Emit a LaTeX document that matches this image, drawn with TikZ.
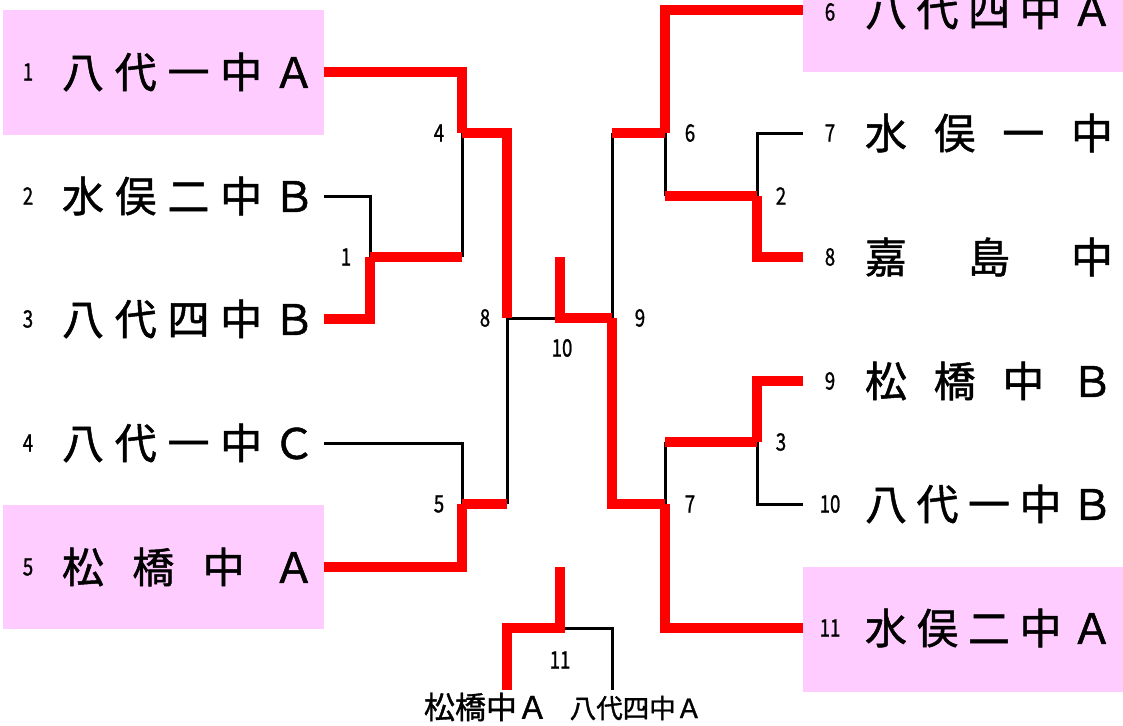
\documentclass[tikz,border=0pt]{standalone}
\usepackage{fontspec}
\setmainfont{Noto Sans CJK JP}
\newfontfamily\jpb{Noto Sans CJK JP}[FakeBold=1.2]
\definecolor{hl}{HTML}{FFCCFF}
\newcommand\nar[1]{\scalebox{0.78}[1]{#1}}
\newcommand\spread[2]{\makebox[#1pt][s]{#2}}
\begin{document}
\begin{tikzpicture}[x=1pt,y=-1pt,
  win/.style={draw=red, line width=9.5pt, line join=miter},
  lose/.style={draw=black, line width=3pt},
  team/.style={inner sep=0pt, font=\jpb\fontsize{42}{42}\selectfont},
  num/.style={inner sep=0pt, font=\jpb\fontsize{24}{24}\selectfont},
  low/.style={inner sep=0pt}]
\useasboundingbox (0,0) rectangle (1123,725);
% highlight boxes
\fill[hl] (3,10) rectangle (324,135);
\fill[hl] (3,505) rectangle (324,629);
\fill[hl] (803,0) rectangle (1123,72);
\fill[hl] (803,567) rectangle (1123,692);
% teams left
\node[team] (t1) at (188.5,72) {\spread{253}{八\hfill 代\hfill 一\hfill 中\hfill Ａ}};
\node[team] (t2) at (188.5,196) {\spread{253}{水\hfill 俣\hfill 二\hfill 中\hfill Ｂ}};
\node[team] (t3) at (188.5,319) {\spread{253}{八\hfill 代\hfill 四\hfill 中\hfill Ｂ}};
\node[team] (t4) at (188.5,443) {\spread{253}{八\hfill 代\hfill 一\hfill 中\hfill Ｃ}};
\node[team] (t5) at (188.5,567) {\spread{253}{松\hfill 橋\hfill 中\hfill Ａ}};
% teams right
\node[team] (t6) at (989,10) {\spread{248}{八\hfill 代\hfill 四\hfill 中\hfill Ａ}};
\node[team] (t7) at (989,133) {\spread{248}{水\hfill 俣\hfill 一\hfill 中}};
\node[team] (t8) at (989,257) {\spread{248}{嘉\hfill 島\hfill 中}};
\node[team] (t9) at (989,381) {\spread{248}{松\hfill 橋\hfill 中\hfill Ｂ}};
\node[team] (t10) at (989,504) {\spread{248}{八\hfill 代\hfill 一\hfill 中\hfill Ｂ}};
\node[team] (t11) at (989,628) {\spread{248}{水\hfill 俣\hfill 二\hfill 中\hfill Ａ}};
% seed numbers
\node[num] (s1) at (28,72) {\nar{1}};
\node[num] (s2) at (28,196) {\nar{2}};
\node[num] (s3) at (28,319) {\nar{3}};
\node[num] (s4) at (28,443) {\nar{4}};
\node[num] (s5) at (28,567) {\nar{5}};
\node[num] (s6) at (830,12) {\nar{6}};
\node[num] (s7) at (830,133) {\nar{7}};
\node[num] (s8) at (830,257) {\nar{8}};
\node[num] (s9) at (830,381) {\nar{9}};
\node[num] (s10) at (830,504) {\nar{10}};
\node[num] (s11) at (830,628) {\nar{11}};
% line ends
\coordinate (e1) at (324,72);
\coordinate (e2) at (324,196);
\coordinate (e3) at (324,319);
\coordinate (e4) at (324,443);
\coordinate (e5) at (324,567);
\coordinate (e6) at (803,10);
\coordinate (e7) at (803,133);
\coordinate (e8) at (803,257);
\coordinate (e9) at (803,381);
\coordinate (e10) at (803,504);
\coordinate (e11) at (803,628);
% junctions
\coordinate (m1) at (370,257);
\coordinate (m4) at (462,133);
\coordinate (m5) at (462,504);
\coordinate (m8) at (507,318);
\coordinate (m10) at (560,318);
\coordinate (champ) at (560,257);
\coordinate (m9) at (612,318);
\coordinate (m6) at (665,133);
\coordinate (m2) at (757,196);
\coordinate (m3) at (757,442);
\coordinate (m7) at (665,504);
\coordinate (m11t) at (560,567);
\coordinate (m11) at (560,628);
\coordinate (b1) at (507,690);
\coordinate (b2) at (612,690);
% match numbers
\node[num] (r1) at (346,257) {\nar{1}};
\node[num] (r4) at (439,133) {\nar{4}};
\node[num] (r5) at (439,504) {\nar{5}};
\node[num] (r8) at (485,318) {\nar{8}};
\node[num] (r10) at (562,348) {\nar{10}};
\node[num] (r9) at (640,318) {\nar{9}};
\node[num] (r6) at (690,133) {\nar{6}};
\node[num] (r2) at (781,196) {\nar{2}};
\node[num] (r3) at (781,442) {\nar{3}};
\node[num] (r7) at (690,504) {\nar{7}};
\node[num] (r11) at (560,660) {\nar{11}};
% third place names
\node[low, font=\jpb\fontsize{31}{31}\selectfont] (p1) at (486,707) {松橋中Ａ};
\node[low, font=\jpb\fontsize{26.5}{26.5}\selectfont] (p2) at (636,708) {八代四中Ａ};
% losing lines
\draw[lose] (e2) -| (m1);
\draw[lose] (m1 -| m4) -- (m4);
\draw[lose] (e4) -| (m5);
\draw[lose] (m5 -| m8) -- (m8);
\draw[lose] (m8) -- (m10);
\draw[lose] (e7) -| (m2);
\draw[lose] (m2 -| m6) -- (m6);
\draw[lose] (m6 -| m9) -- (m9);
\draw[lose] (e10) -| (m3);
\draw[lose] (m3 -| m7) -- (m7);
\draw[lose] (m11) -| (b2);
% winning lines
\draw[win] (e3) -| (m1);
\draw[win] (m1) -- (m1 -| m4);
\draw[win] (e1) -| (m4);
\draw[win] (m4) -| (m8);
\draw[win] (e5) -| (m5);
\draw[win] (m5) -- (m5 -| m8);
\draw[win] (champ) |- (m9);
\draw[win] (e6) -| (m6);
\draw[win] (e8) -| (m2);
\draw[win] (m2) -- (m2 -| m6);
\draw[win] (m6) -- (m6 -| m9);
\draw[win] (e9) -| (m3);
\draw[win] (m3) -- (m3 -| m7);
\draw[win] (e11) -| (m7);
\draw[win] (m7) -| (m9);
\draw[win] (m11t) |- (m11) -| (b1);
\end{tikzpicture}
\end{document}
